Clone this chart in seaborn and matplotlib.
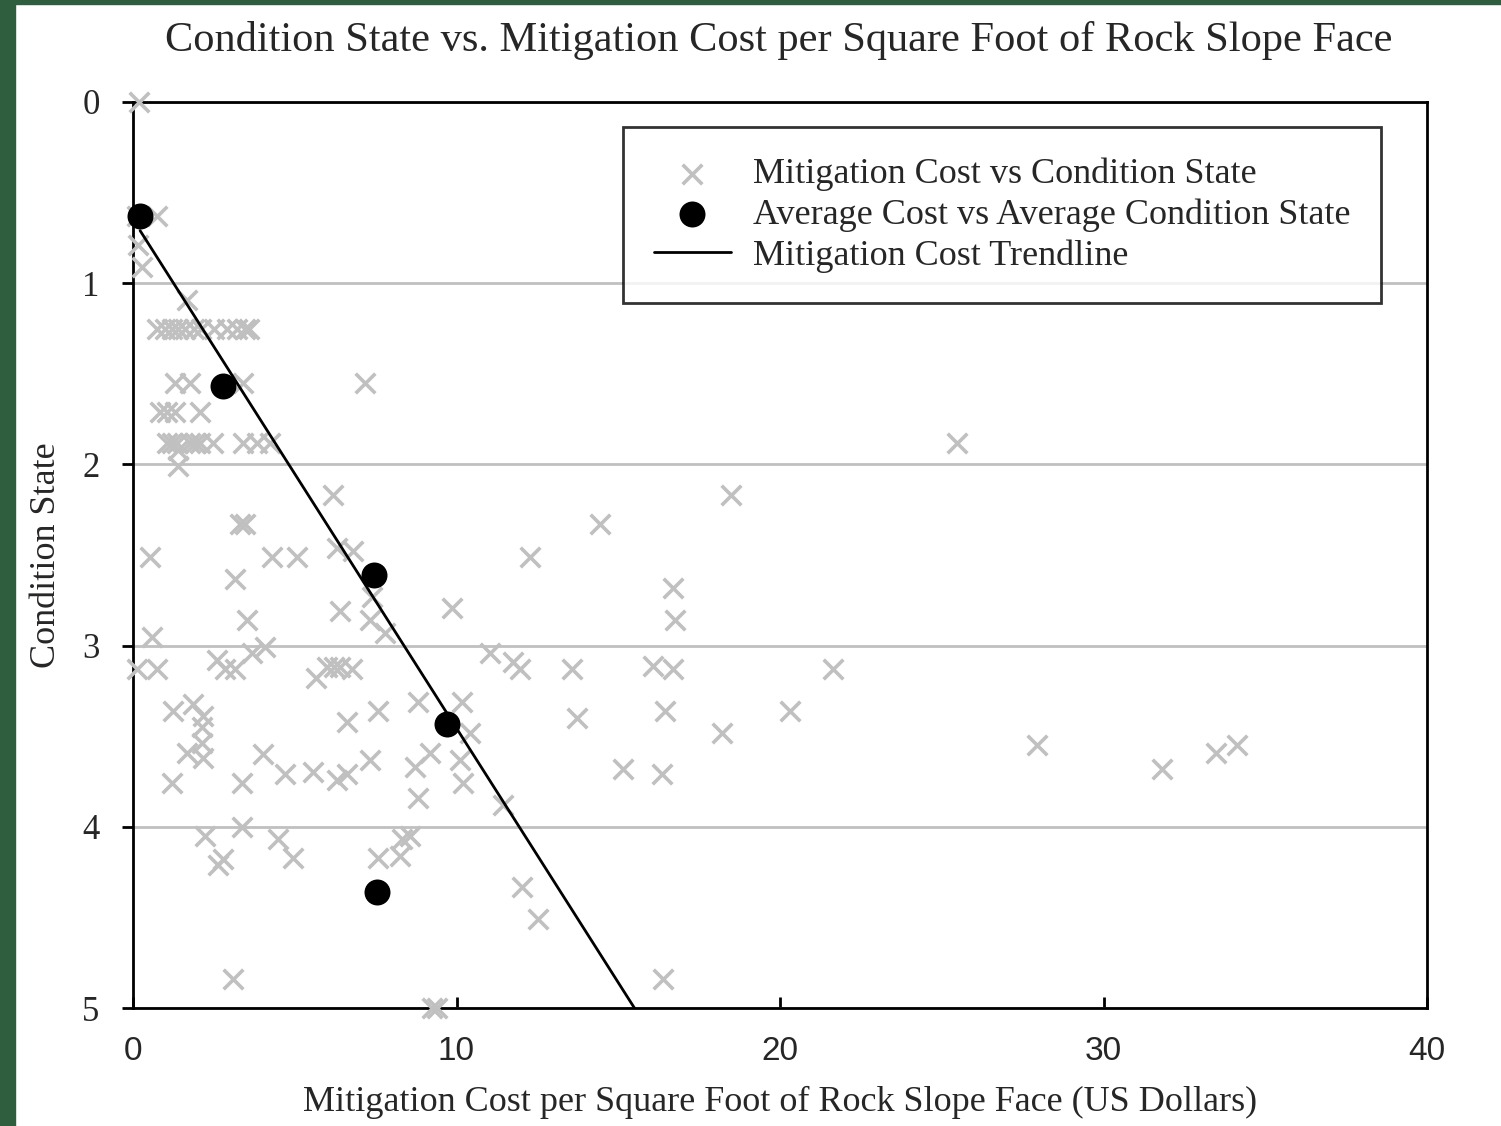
import matplotlib
matplotlib.use('Agg')
import numpy as np
import pandas as pd
import seaborn as sns
from matplotlib import pyplot as plt
from matplotlib.patches import Rectangle

# individual sites: mitigation cost ($/sq ft) and condition state
cost = [0.19, 0.11, 0.73, 0.16, 0.27, 1.66,
        0.75, 1.0, 1.2, 1.4, 1.6, 1.9, 2.1, 2.5, 2.9, 3.2, 3.45, 3.6,
        1.30, 1.76, 3.41, 7.17,
        0.83, 1.04, 1.30, 2.07,
        1.04, 1.20, 1.35, 1.76, 1.92, 2.07, 2.48, 3.41, 3.82, 4.23, 25.46,
        1.40, 1.40, 6.17, 18.50, 3.30, 3.45, 14.44,
        0.53, 4.29, 5.06, 6.30, 6.81, 12.27,
        3.15, 16.70, 7.38, 9.85, 6.40, 7.33, 3.51, 16.75, 7.79, 0.58,
        4.08, 3.67, 11.04, 2.59, 11.76, 16.08,
        0.11, 0.73, 2.84, 3.15, 6.0, 6.2, 6.4, 6.76, 11.96, 13.56, 16.70, 21.65,
        5.65, 8.82, 10.16, 1.86, 1.25, 7.58, 16.44, 20.31, 2.17, 13.71, 6.61,
        2.12, 10.42, 18.20,
        2.12, 27.95, 34.14, 1.66, 9.18, 33.48, 4.03, 2.17, 7.33, 10.11, 8.72,
        15.16, 31.82, 5.57, 4.70, 6.61, 16.34, 6.30, 1.20, 3.36, 10.21, 8.82, 11.45,
        3.36, 2.23, 8.56, 4.49, 8.31, 8.25, 4.96, 7.58, 2.79, 2.64, 12.02, 12.53,
        3.10, 16.38, 9.25, 9.40]
state = [0.0, 0.63, 0.63, 0.79, 0.91, 1.09,
         1.25, 1.25, 1.25, 1.25, 1.25, 1.25, 1.25, 1.25, 1.25, 1.25, 1.25, 1.25,
         1.55, 1.55, 1.55, 1.55,
         1.71, 1.71, 1.71, 1.71,
         1.88, 1.88, 1.88, 1.88, 1.88, 1.88, 1.88, 1.88, 1.88, 1.88, 1.88,
         1.92, 2.01, 2.17, 2.17, 2.33, 2.33, 2.33,
         2.51, 2.51, 2.51, 2.46, 2.48, 2.51,
         2.63, 2.68, 2.73, 2.79, 2.81, 2.86, 2.86, 2.86, 2.93, 2.95,
         3.01, 3.04, 3.04, 3.08, 3.09, 3.11,
         3.13, 3.13, 3.13, 3.13, 3.12, 3.12, 3.12, 3.13, 3.13, 3.13, 3.13, 3.13,
         3.18, 3.31, 3.31, 3.32, 3.36, 3.36, 3.36, 3.36, 3.39, 3.40, 3.42,
         3.45, 3.48, 3.48,
         3.54, 3.55, 3.55, 3.59, 3.59, 3.59, 3.60, 3.62, 3.63, 3.63, 3.67,
         3.68, 3.68, 3.70, 3.71, 3.71, 3.71, 3.74, 3.76, 3.76, 3.76, 3.84, 3.88,
         4.00, 4.05, 4.05, 4.07, 4.07, 4.16, 4.17, 4.17, 4.18, 4.21, 4.33, 4.51,
         4.84, 4.84, 5.0, 5.0]

# averages per condition group
avg_cost = [0.22, 2.79, 7.45, 9.70, 7.55]
avg_state = [0.63, 1.57, 2.61, 3.43, 4.36]

# trendline end points
trend_cost = [0.22, 15.5]
trend_state = [0.71, 5.0]

serif = 'Liberation Serif'
sans = 'Liberation Sans'


def main():
    sns.set_theme(style='white')
    plt.rcParams['font.family'] = [serif, 'DejaVu Serif']

    fig = plt.figure(figsize=(15.01, 11.26), dpi=100)
    fig.patch.set_facecolor('white')
    # dark green frame on the left and top edge
    fig.patches.append(Rectangle((0, 0), 15 / 1501, 1, transform=fig.transFigure,
                                 color='#2e5e3d', zorder=10))
    fig.patches.append(Rectangle((0, 1 - 4 / 1126), 1, 4 / 1126, transform=fig.transFigure,
                                 color='#2e5e3d', zorder=10))

    ax = fig.add_axes([133 / 1501, 1 - 1008 / 1126, 1294 / 1501, 906 / 1126])

    df = pd.DataFrame({'cost': cost, 'state': state})
    avg = pd.DataFrame({'cost': avg_cost, 'state': avg_state})
    trend = pd.DataFrame({'cost': trend_cost, 'state': trend_state})

    sns.scatterplot(data=df, x='cost', y='state', marker='x', s=200, color='#c0c0c0',
                    linewidth=2.6, ax=ax, label='Mitigation Cost vs Condition State',
                    zorder=3, clip_on=False)
    sns.scatterplot(data=avg, x='cost', y='state', marker='o', s=300, color='black',
                    edgecolor='black', ax=ax, label='Average Cost vs Average Condition State',
                    zorder=5, clip_on=False)
    sns.lineplot(data=trend, x='cost', y='state', color='black', linewidth=2, ax=ax,
                 label='Mitigation Cost Trendline', zorder=4)

    ax.set_xlim(0, 40)
    ax.set_ylim(5, 0)
    ax.set_xticks([0, 10, 20, 30, 40])
    ax.set_yticks([0, 1, 2, 3, 4, 5])
    ax.yaxis.grid(True, color='#c0c0c0', linewidth=2)
    ax.xaxis.grid(False)
    ax.set_axisbelow(True)
    for sp in ax.spines.values():
        sp.set_color('black')
        sp.set_linewidth(2)

    ax.tick_params(axis='x', direction='in', length=8, width=2, color='black',
                   pad=20, labelsize=24, bottom=True)
    ax.tick_params(axis='y', direction='out', length=8, width=2, color='black',
                   pad=16, labelsize=25, left=True)
    for lab in ax.get_xticklabels():
        lab.set_fontfamily(sans)

    ax.set_xlabel('Mitigation Cost per Square Foot of Rock Slope Face (US Dollars)',
                  fontsize=26, labelpad=14)
    ax.set_ylabel('Condition State', fontsize=26, labelpad=14)
    fig.text(0.519, 1 - 41 / 1126, 'Condition State vs. Mitigation Cost per Square Foot of Rock Slope Face',
             ha='center', va='center', fontsize=30.5)

    leg = ax.legend(loc='upper right', bbox_to_anchor=(0.9645, 0.9724), borderaxespad=0,
                    fontsize=26, frameon=True, fancybox=False, edgecolor='black',
                    handlelength=2.15, handletextpad=0.6, borderpad=0.85, labelspacing=0.2)
    leg.get_frame().set_linewidth(2)

    fig.savefig('out.png', dpi=100)


if __name__ == '__main__':
    main()
